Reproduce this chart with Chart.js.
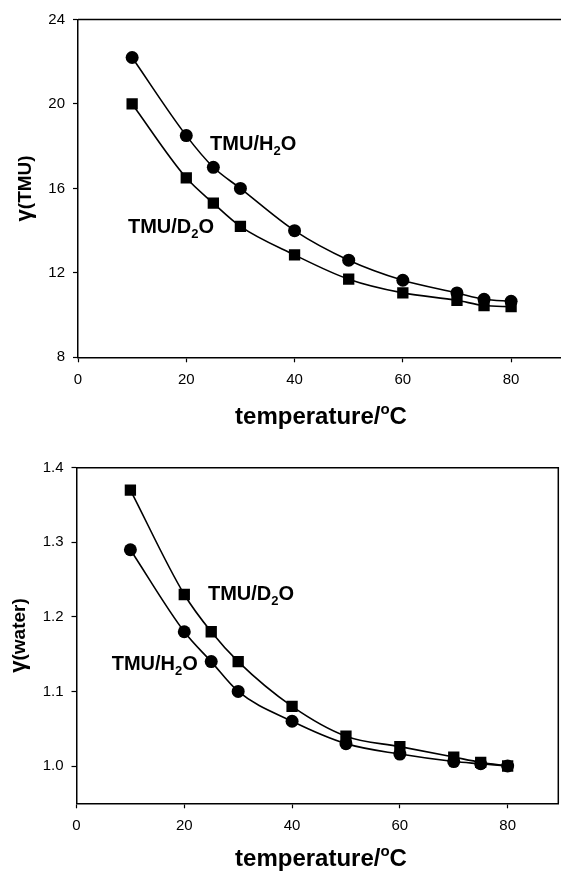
<!DOCTYPE html>
<html><head><meta charset="utf-8">
<script src="https://cdn.jsdelivr.net/npm/chart.js@4.4.0/dist/chart.umd.min.js"></script>
<style>
html,body{margin:0;padding:0;background:#fff;overflow:hidden;width:561px;height:876px;position:relative;}
#w1{position:absolute;left:0;top:0;width:562px;height:430px;}
#w2{position:absolute;left:0;top:430px;width:561px;height:446px;}
</style></head><body>
<div id="w1"><canvas id="c1"></canvas></div>
<div id="w2"><canvas id="c2"></canvas></div>
<script>
// ---- data ----
const temperatures = [10, 20, 25, 30, 40, 50, 60, 70, 75, 80];
const gammaTMU_H2O = [22.2, 18.5, 17.0, 16.0, 14.0, 12.6, 11.65, 11.05, 10.75, 10.65];
const gammaTMU_D2O = [20.0, 16.5, 15.3, 14.2, 12.85, 11.7, 11.05, 10.7, 10.45, 10.4];
const gammaWater_H2O = [1.29, 1.18, 1.14, 1.10, 1.06, 1.03, 1.016, 1.006, 1.003, 1.0];
const gammaWater_D2O = [1.37, 1.23, 1.18, 1.14, 1.08, 1.04, 1.026, 1.012, 1.005, 1.0];
const xTicks = [0, 20, 40, 60, 80];
const yTicksTop = [8, 12, 16, 20, 24];
const yTicksBottom = [1.0, 1.1, 1.2, 1.3, 1.4];
const xTitle = ['temperature/', 'o', 'C'];
const yTitleTop = ['γ', '(TMU)'];
const yTitleBottom = ['γ', '(water)'];
const notesTop = [
  {pre: 'TMU/H', sub: '2', post: 'O', x: 24.4, y: 17.82},
  {pre: 'TMU/D', sub: '2', post: 'O', x: 9.23, y: 13.90}
];
const notesBottom = [
  {pre: 'TMU/D', sub: '2', post: 'O', x: 24.4, y: 1.2226},
  {pre: 'TMU/H', sub: '2', post: 'O', x: 6.53, y: 1.1287}
];

const F = '"Liberation Sans", Arial, Helvetica, sans-serif';

function decoPlugin(cfg) {
  return {
    id: 'deco' + cfg.id,
    afterDraw(chart) {
      const ctx = chart.ctx, a = chart.chartArea, xs = chart.scales.x, ys = chart.scales.y;
      ctx.save();
      ctx.strokeStyle = '#000'; ctx.lineWidth = 1.5;
      ctx.beginPath();
      ctx.moveTo(a.left, a.top); ctx.lineTo(a.right, a.top);
      if (cfg.rightBorder) ctx.lineTo(a.right, a.bottom);
      ctx.stroke();
      ctx.fillStyle = '#000'; ctx.textAlign = 'left'; ctx.textBaseline = 'alphabetic';
      cfg.notes.forEach(n => {
        let px = xs.getPixelForValue(n.x), py = ys.getPixelForValue(n.y);
        ctx.font = 'bold 20px ' + F; ctx.fillText(n.pre, px, py); px += ctx.measureText(n.pre).width;
        ctx.font = 'bold 13px ' + F; ctx.fillText(n.sub, px, py + 5); px += ctx.measureText(n.sub).width;
        ctx.font = 'bold 20px ' + F; ctx.fillText(n.post, px, py);
      });
      // x title
      const f1 = 'bold 24px ' + F, f2 = 'bold 15px ' + F;
      ctx.font = f1; const w1 = ctx.measureText(xTitle[0]).width, w3 = ctx.measureText(xTitle[2]).width;
      ctx.font = f2; const w2 = ctx.measureText(xTitle[1]).width;
      let tx = cfg.titleX - (w1 + w2 + w3) / 2;
      ctx.font = f1; ctx.fillText(xTitle[0], tx, cfg.titleY); tx += w1;
      ctx.font = f2; ctx.fillText(xTitle[1], tx, cfg.titleY - 10); tx += w2;
      ctx.font = f1; ctx.fillText(xTitle[2], tx, cfg.titleY);
      // y title
      const g1 = 'bold 22px ' + F, g2 = 'bold 19px ' + F;
      ctx.font = g1; const v1 = ctx.measureText(cfg.yTitle[0]).width;
      ctx.font = g2; const v2 = ctx.measureText(cfg.yTitle[1]).width;
      ctx.translate(cfg.yTitleX, (a.top + a.bottom) / 2);
      ctx.rotate(-Math.PI / 2);
      let ty = -(v1 + v2) / 2;
      ctx.font = g1; ctx.fillText(cfg.yTitle[0], ty, 0); ty += v1;
      ctx.font = g2; ctx.fillText(cfg.yTitle[1], ty, 0);
      ctx.restore();
    }
  };
}

function makeChart(el, cfg) {
  const tickFont = {family: F, size: 15};
  return new Chart(el, {
    type: 'line',
    data: {
      datasets: [
        {data: temperatures.map((t, i) => ({x: t, y: cfg.circ[i]})), pointStyle: 'circle', pointRadius: 6.5,
         borderColor: '#000', backgroundColor: '#000', pointBackgroundColor: '#000', pointBorderColor: '#000',
         borderWidth: 1.6, pointBorderWidth: 0, cubicInterpolationMode: 'monotone', fill: false},
        {data: temperatures.map((t, i) => ({x: t, y: cfg.sq[i]})), pointStyle: 'rect', pointRadius: 8,
         borderColor: '#000', backgroundColor: '#000', pointBackgroundColor: '#000', pointBorderColor: '#000',
         borderWidth: 1.6, pointBorderWidth: 0, cubicInterpolationMode: 'monotone', fill: false}
      ]
    },
    options: {
      responsive: true, maintainAspectRatio: false, animation: false, devicePixelRatio: 1,
      layout: {autoPadding: false, padding: {top: cfg.padTop, right: cfg.padRight, left: 0, bottom: 0}},
      plugins: {legend: {display: false}, tooltip: {enabled: false}},
      scales: {
        x: {type: 'linear', min: 0, max: cfg.xMax,
            afterFit: s => { s.height = cfg.xH; },
            afterBuildTicks: s => { s.ticks = xTicks.map(v => ({value: v})); },
            border: {color: '#000', width: 1.5},
            grid: {drawOnChartArea: false, tickLength: 5, tickColor: '#000', tickWidth: 1.2},
            ticks: {color: '#000', font: tickFont, padding: 9, maxRotation: 0, callback: v => String(v)}},
        y: {type: 'linear', min: cfg.yMin, max: cfg.yMax,
            afterFit: s => { s.width = cfg.yW; },
            afterBuildTicks: s => { s.ticks = cfg.yTicks.map(v => ({value: v})); },
            border: {color: '#000', width: 1.5},
            grid: {drawOnChartArea: false, tickLength: 5, tickColor: '#000', tickWidth: 1.2},
            ticks: {color: '#000', font: tickFont, padding: 8, callback: v => Number(v).toFixed(cfg.dec)}}
      }
    },
    plugins: [decoPlugin(cfg)]
  });
}

makeChart(document.getElementById('c1'), {
  id: 1, circ: gammaTMU_H2O, sq: gammaTMU_D2O, xMax: 89.4, yMin: 8, yMax: 24, yTicks: yTicksTop, dec: 0,
  padTop: 19.5, padRight: 0, xH: 72.7, yW: 78, notes: notesTop, rightBorder: false,
  titleX: 321, titleY: 424, yTitle: yTitleTop, yTitleX: 31
});
makeChart(document.getElementById('c2'), {
  id: 2, circ: gammaWater_H2O, sq: gammaWater_D2O, xMax: 89.4, yMin: 0.95, yMax: 1.4, yTicks: yTicksBottom, dec: 1,
  padTop: 37.7, padRight: 2.7, xH: 72.7, yW: 76.5, notes: notesBottom, rightBorder: true,
  titleX: 321, titleY: 436, yTitle: yTitleBottom, yTitleX: 25
});
</script>
</body></html>
